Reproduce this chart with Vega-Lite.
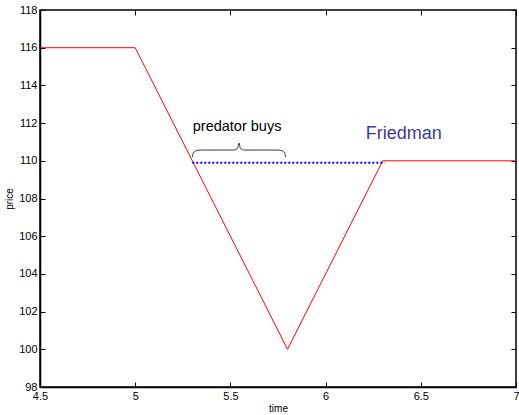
{
  "$schema": "https://vega.github.io/schema/vega-lite/v6.json",
  "width": 476,
  "height": 377,
  "autosize": {"type": "none"},
  "padding": {"left": 40, "top": 10, "right": 3, "bottom": 28},
  "background": "white",
  "config": {
    "view": {"stroke": "black", "strokeWidth": 1.5},
    "font": "Liberation Sans",
    "axis": {
      "grid": false,
      "domainColor": "black",
      "domainWidth": 1.5,
      "tickColor": "black",
      "tickSize": -5,
      "tickWidth": 1,
      "labelColor": "black",
      "labelFontSize": 11,
      "labelFont": "Liberation Sans",
      "titleFont": "Liberation Sans",
      "titleFontWeight": "normal",
      "titleFontSize": 10,
      "titleColor": "black"
    }
  },
  "datasets": {
    "price": [
      {"time": 4.5, "price": 116},
      {"time": 5.0, "price": 116},
      {"time": 5.8, "price": 100},
      {"time": 6.3, "price": 110},
      {"time": 7.0, "price": 110}
    ],
    "pred": [
      {"time": 5.3, "price": 109.9},
      {"time": 6.31, "price": 109.9}
    ],
    "brace": [
      {"i": 0, "time": 5.3, "price": 110.2},
      {"i": 1, "time": 5.305, "price": 110.42},
      {"i": 2, "time": 5.325, "price": 110.55},
      {"i": 3, "time": 5.345, "price": 110.57},
      {"i": 4, "time": 5.515, "price": 110.57},
      {"i": 5, "time": 5.537, "price": 110.65},
      {"i": 6, "time": 5.545, "price": 110.94},
      {"i": 7, "time": 5.553, "price": 110.65},
      {"i": 8, "time": 5.575, "price": 110.57},
      {"i": 9, "time": 5.745, "price": 110.57},
      {"i": 10, "time": 5.765, "price": 110.55},
      {"i": 11, "time": 5.785, "price": 110.42},
      {"i": 12, "time": 5.79, "price": 110.2}
    ],
    "notes": [
      {"time": 5.535, "price": 111.8, "label": "predator buys", "kind": "a"},
      {"time": 6.41, "price": 111.42, "label": "Friedman", "kind": "b"}
    ]
  },
  "layer": [
    {
      "data": {"name": "price"},
      "mark": {"type": "line", "color": "#ff0000", "strokeWidth": 1, "clip": true},
      "encoding": {
        "x": {
          "field": "time", "type": "quantitative",
          "scale": {"domain": [4.5, 7], "nice": false, "zero": false},
          "axis": {
            "orient": "bottom", "title": "time", "values": [4.5, 5, 5.5, 6, 6.5, 7],
            "format": "~g", "labelPadding": 8, "titlePadding": 2, "labelFlush": false
          }
        },
        "y": {
          "field": "price", "type": "quantitative",
          "scale": {"domain": [98, 118], "nice": false, "zero": false},
          "axis": {
            "orient": "left", "title": "price", "values": [98, 100, 102, 104, 106, 108, 110, 112, 114, 116, 118],
            "format": "~g", "labelPadding": 8, "titlePadding": 4
          }
        }
      }
    },
    {
      "data": {"name": "pred"},
      "mark": {"type": "line", "color": "#0000ff", "strokeWidth": 2, "strokeDash": [2, 2]},
      "encoding": {
        "x": {"field": "time", "type": "quantitative", "axis": {"orient": "top", "labels": false, "title": null, "values": [4.5, 5, 5.5, 6, 6.5, 7], "domain": false}},
        "y": {"field": "price", "type": "quantitative", "axis": {"orient": "right", "labels": false, "title": null, "values": [98, 100, 102, 104, 106, 108, 110, 112, 114, 116, 118], "domain": false}}
      }
    },
    {
      "data": {"name": "brace"},
      "mark": {"type": "line", "color": "#333333", "strokeWidth": 1, "interpolate": "monotone"},
      "encoding": {
        "x": {"field": "time", "type": "quantitative", "axis": null},
        "y": {"field": "price", "type": "quantitative", "axis": null},
        "order": {"field": "i", "type": "quantitative"}
      }
    },
    {
      "data": {"name": "notes"},
      "transform": [{"filter": "datum.kind == 'a'"}],
      "mark": {"type": "text", "fontSize": 14.5, "color": "black", "font": "Liberation Sans"},
      "encoding": {
        "x": {"field": "time", "type": "quantitative", "axis": null},
        "y": {"field": "price", "type": "quantitative", "axis": null},
        "text": {"field": "label"}
      }
    },
    {
      "data": {"name": "notes"},
      "transform": [{"filter": "datum.kind == 'b'"}],
      "mark": {"type": "text", "fontSize": 18, "color": "#3b3b9b", "font": "Liberation Sans"},
      "encoding": {
        "x": {"field": "time", "type": "quantitative", "axis": null},
        "y": {"field": "price", "type": "quantitative", "axis": null},
        "text": {"field": "label"}
      }
    }
  ],
  "resolve": {"axis": {"x": "independent", "y": "independent"}}
}
